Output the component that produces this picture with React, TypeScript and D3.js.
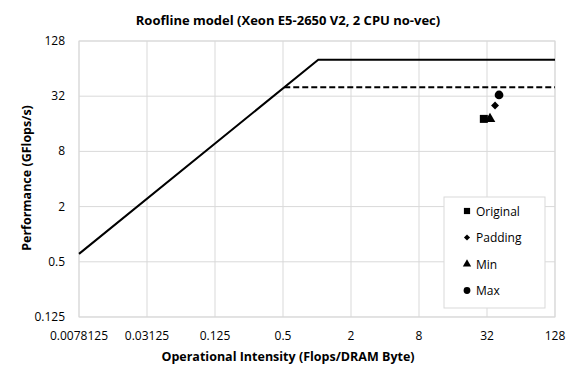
import React from 'react';
import * as d3 from 'd3';

const width = 574;
const height = 367;
const margin = { top: 41, right: 19, bottom: 50, left: 79 };

const xTicks = [0.0078125, 0.03125, 0.125, 0.5, 2, 8, 32, 128];
const yTicks = [0.125, 0.5, 2, 8, 32, 128];

// roofline: bandwidth slope + compute ceiling
const roofX = [0.0078125, 1.026, 128];
const roofY = [0.61, 80, 80];
// no-vec ceiling (dashed)
const ceilX = [0.513, 128];
const ceilY = [40, 40];

const series = ['Original', 'Padding', 'Min', 'Max'];
const seriesX = [30, 37.7, 34, 40.9];
const seriesY = [18.1, 25.3, 18.1, 33];
const symbols = [d3.symbolSquare, d3.symbolDiamond2, d3.symbolTriangle, d3.symbolCircle];
const symbolSizes = [64, 40, 50, 60];

const font = '"Open Sans", "Noto Sans", sans-serif';
const grid = '#d9d9d9';

const App = () => {
  const x = d3.scaleLog().base(2).domain([0.0078125, 128]).range([margin.left, width - margin.right]);
  const y = d3.scaleLog().base(2).domain([0.125, 128]).range([height - margin.bottom, margin.top]);
  const path = (xs: number[], ys: number[]) =>
    d3.line<number>().x((d) => x(d)).y((d, i) => y(ys[i]))(xs) || '';

  const legX = 444;
  const legY = 197;

  return (
    <svg width={width} height={height} style={{ display: 'block', position: 'absolute', left: 0, top: 0 }} fontFamily={font}>
      <rect width={width} height={height} fill="#fff" />
      <text x={288} y={25} textAnchor="middle" fontSize={13} fontWeight="bold" fill="#000">
        Roofline model (Xeon E5-2650 V2, 2 CPU no-vec)
      </text>
      {xTicks.map((t) => (
        <g key={'x' + t}>
          <line x1={x(t)} x2={x(t)} y1={y(128)} y2={y(0.125)} stroke={grid} />
          <text x={x(t)} y={340} textAnchor="middle" fontSize={12} fill="#000">{t}</text>
        </g>
      ))}
      {yTicks.map((t) => (
        <g key={'y' + t}>
          <line x1={x(0.0078125)} x2={x(128)} y1={y(t)} y2={y(t)} stroke={grid} />
          <text x={65} y={y(t) + 4} textAnchor="end" fontSize={12} fill="#000">{t}</text>
        </g>
      ))}
      <rect x={margin.left} y={margin.top} width={width - margin.left - margin.right} height={height - margin.top - margin.bottom} fill="none" stroke={grid} />
      <path d={path(roofX, roofY)} fill="none" stroke="#000" strokeWidth={2} />
      <path d={path(ceilX, ceilY)} fill="none" stroke="#000" strokeWidth={2} strokeDasharray="6,3" />
      {series.map((s, i) => (
        <path key={s} d={d3.symbol(symbols[i], symbolSizes[i])() || ''} transform={`translate(${x(seriesX[i])},${y(seriesY[i])})`} fill="#000" />
      ))}
      <rect x={legX} y={legY} width={101} height={111} fill="#fff" stroke={grid} />
      {series.map((s, i) => (
        <g key={'l' + s} transform={`translate(${legX + 23},${legY + 14 + i * 26.5})`}>
          <path d={d3.symbol(symbols[i], symbolSizes[i] * 0.6)() || ''} fill="#000" />
          <text x={9} y={4.5} fontSize={12} fill="#000">{s}</text>
        </g>
      ))}
      <text x={288} y={361} textAnchor="middle" fontSize={12.5} fontWeight="bold" fill="#000">
        Operational Intensity (Flops/DRAM Byte)
      </text>
      <text transform={`translate(31,178) rotate(-90)`} textAnchor="middle" fontSize={12.5} fontWeight="bold" fill="#000">
        Performance (GFlops/s)
      </text>
    </svg>
  );
};

export default App;
